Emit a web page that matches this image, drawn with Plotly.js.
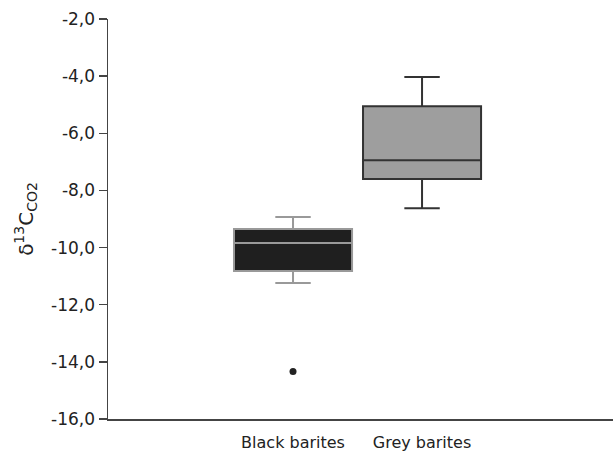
<!DOCTYPE html>
<html><head><meta charset="utf-8">
<script src="https://cdn.plot.ly/plotly-3.0.1.min.js"></script>
<style>html,body{margin:0;padding:0;background:#fff}#chart{width:613px;height:454px}</style>
</head><body><div id="chart"></div>
<script>
var categories = ["Black barites", "Grey barites"];
var lowerWhisker = [-11.24, -8.62];
var q1Values = [-10.82, -7.60];
var medianValues = [-9.84, -6.94];
var q3Values = [-9.35, -5.05];
var upperWhisker = [-8.93, -4.03];
var outlierValues = [-14.34];
var yTickVals = [-2, -4, -6, -8, -10, -12, -14, -16];
var yTickText = ["-2,0", "-4,0", "-6,0", "-8,0", "-10,0", "-12,0", "-14,0", "-16,0"];

var fills = ["#1f1f1f", "#9e9e9e"];
var lines = ["#999999", "#333333"];
var traces = categories.map(function (c, i) {
  return {
    type: "box", x: [i], q1: [q1Values[i]], median: [medianValues[i]], q3: [q3Values[i]],
    lowerfence: [lowerWhisker[i]], upperfence: [upperWhisker[i]],
    width: 0.915, whiskerwidth: 0.3, fillcolor: fills[i],
    line: {color: lines[i], width: 2}, boxpoints: false, showlegend: false, hoverinfo: "skip"
  };
});
traces.push({
  type: "scatter", mode: "markers", x: outlierValues.map(function () { return 0; }), y: outlierValues,
  marker: {color: "#222", size: 7}, showlegend: false, hoverinfo: "skip"
});

var layout = {
  width: 613, height: 454,
  margin: {l: 108, r: 0, t: 19, b: 35},
  paper_bgcolor: "#fff", plot_bgcolor: "#fff",
  font: {family: "DejaVu Sans, Liberation Sans, sans-serif", color: "#222"},
  xaxis: {
    range: [-1.434, 2.48], showgrid: false, zeroline: false,
    tickvals: [0, 1], ticktext: categories, ticks: "outside", ticklen: 8, tickcolor: "rgba(0,0,0,0)",
    showline: true, linecolor: "#444", linewidth: 1.5,
    tickfont: {size: 16, color: "#222"}
  },
  yaxis: {
    range: [-16, -2], showgrid: false, zeroline: false,
    tickvals: yTickVals, ticktext: yTickText, ticks: "outside", ticklen: 8, tickcolor: "#444", tickwidth: 1.5,
    showline: true, linecolor: "#444", linewidth: 1.5,
    tickfont: {size: 17, color: "#222"},
    title: {text: "δ<sup>13</sup>C<sub>CO2</sub>", font: {size: 20, color: "#222"}, standoff: 12}
  }
};
Plotly.newPlot("chart", traces, layout, {staticPlot: true, displayModeBar: false});
</script></body></html>
